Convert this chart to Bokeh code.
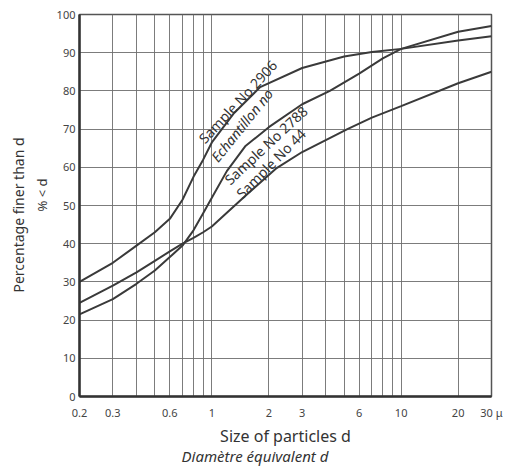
from bokeh.plotting import figure
from bokeh.models import FixedTicker, ColumnDataSource, Title
from bokeh.core.properties import value
from bokeh.embed import file_html
from bokeh.resources import INLINE

# --- data (size in microns, percent finer) ---
d_2906 = [0.2, 0.3, 0.4, 0.5, 0.6, 0.7, 0.8, 0.9, 1.0, 1.3, 1.8, 3.0, 5.0, 7.0, 10.0, 20.0, 30.0]
p_2906 = [30.0, 35.0, 39.5, 43.0, 46.5, 51.5, 57.5, 62.0, 66.5, 74.0, 81.0, 86.0, 89.0, 90.2, 91.0, 93.2, 94.3]

d_2788 = [0.2, 0.3, 0.4, 0.5, 0.6, 0.7, 0.8, 0.9, 1.0, 1.2, 1.5, 2.0, 3.0, 4.2, 6.0, 8.0, 10.0, 20.0, 30.0]
p_2788 = [21.5, 25.5, 29.5, 33.0, 36.5, 39.5, 43.5, 48.0, 52.0, 59.0, 65.5, 70.5, 76.5, 80.0, 84.5, 88.5, 91.0, 95.5, 97.0]

d_44 = [0.2, 0.3, 0.4, 0.5, 0.6, 0.7, 0.8, 0.9, 1.0, 1.5, 2.2, 3.0, 5.2, 7.0, 10.0, 20.0, 30.0]
p_44 = [24.5, 29.0, 32.5, 35.5, 38.0, 40.0, 41.5, 43.0, 44.5, 52.5, 59.8, 64.0, 70.0, 73.0, 76.0, 82.0, 85.0]

x_ticks = [0.2, 0.3, 0.6, 1, 2, 3, 6, 10, 20, 30]
x_tick_labels = ["0.2", "0.3", "0.6", "1", "2", "3", "6", "10", "20", "30 μ"]
x_grid = [0.3, 0.4, 0.5, 0.6, 0.7, 0.8, 0.9, 1, 2, 3, 4, 5, 6, 7, 8, 9, 10, 20]
y_ticks = [0, 10, 20, 30, 40, 50, 60, 70, 80, 90, 100]

label_text = ["Sample No 2906", "Echantillon no", "Sample No 2788", "Sample No 44"]
label_d = [1.37, 1.44, 1.93, 2.05]
label_p = [77.2, 71.0, 65.8, 61.0]
label_angle = [47, 51, 43, 45]
label_style = ["normal", "italic", "normal", "normal"]

INK = "#3a3a3a"
TXT = "#333333"
GRID = "#6e6e6e"
FONT = "Noto Sans"

p = figure(width=505, height=466, x_axis_type="log", x_range=(0.2, 30), y_range=(0, 100),
           output_backend="svg", toolbar_location=None,
           min_border_left=79, min_border_right=14, min_border_top=14, min_border_bottom=70)

p.background_fill_color = "white"
p.border_fill_color = "white"
p.outline_line_color = "#555555"
p.outline_line_width = 1.5

# grids
p.xgrid.ticker = FixedTicker(ticks=x_grid)
p.ygrid.ticker = FixedTicker(ticks=y_ticks)
for g in (p.xgrid, p.ygrid):
    g.grid_line_color = GRID
    g.grid_line_width = 1
    g.grid_line_alpha = 0.9

# axes
p.xaxis.ticker = FixedTicker(ticks=x_ticks)
p.xaxis.major_label_overrides = {t: s for t, s in zip(x_ticks, x_tick_labels)}
p.yaxis.ticker = FixedTicker(ticks=y_ticks)
for ax in (p.xaxis, p.yaxis):
    ax.axis_line_color = "#333333"
    ax.axis_line_width = 2.5
    ax.major_tick_line_color = None
    ax.minor_tick_line_color = None
    ax.major_tick_out = 0
    ax.major_tick_in = 0
    ax.major_label_text_font = FONT
    ax.major_label_text_font_size = "11px"
    ax.major_label_text_color = "#444444"
    ax.axis_label_text_font = FONT
    ax.axis_label_text_font_style = "normal"
    ax.axis_label_text_color = TXT
p.xaxis.major_label_standoff = 8
p.yaxis.major_label_standoff = 4

p.xaxis.axis_label = "Size of particles d"
p.xaxis.axis_label_text_font_size = "16px"
p.xaxis.axis_label_standoff = 2

p.add_layout(Title(text="Diamètre équivalent d", align="left", offset=102, text_font=FONT,
                   text_font_size="15px", text_font_style="italic", text_color=TXT,
                   standoff=-12), "below")
p.add_layout(Title(text="% < d", align="left", offset=185, text_font=FONT,
                   text_font_size="13px", text_font_style="normal", text_color=TXT,
                   standoff=6), "left")
p.add_layout(Title(text="Percentage finer than d", align="left", offset=104, text_font=FONT,
                   text_font_size="14px", text_font_style="normal", text_color=TXT,
                   standoff=0), "left")

# curves
for dx, py in ((d_2906, p_2906), (d_2788, p_2788), (d_44, p_44)):
    p.line(dx, py, line_color=INK, line_width=2)

# curve labels
src = ColumnDataSource(dict(x=label_d, y=label_p, text=label_text, angle=label_angle, style=label_style))
p.text(x="x", y="y", text="text", angle="angle", angle_units="deg", source=src,
       text_font=value(FONT), text_font_size="14px", text_font_style="style",
       text_color=TXT, text_align="center", text_baseline="middle")

open("out.html", "w").write(file_html(p, INLINE))
